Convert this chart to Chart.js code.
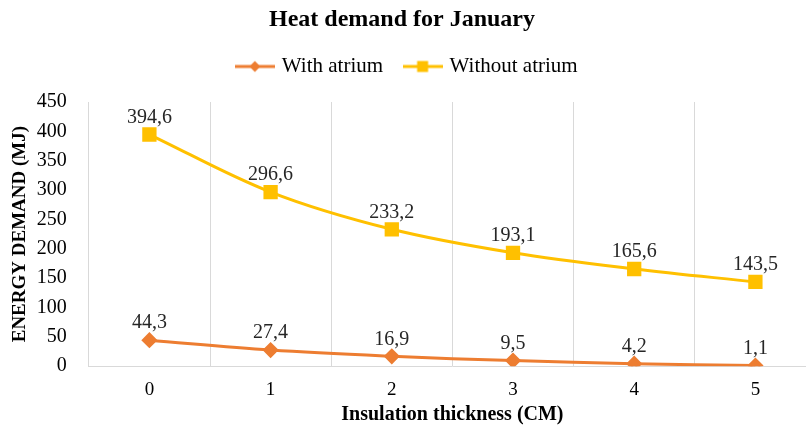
<!DOCTYPE html>
<html>
<head>
<meta charset="utf-8">
<script src="https://cdn.jsdelivr.net/npm/chart.js@4"></script>
<style>
  html, body { margin: 0; padding: 0; background: #fff; overflow: hidden; }
  #wrap { width: 806px; height: 427px; overflow: hidden; }
  #inner { width: 830px; height: 427px; }
</style>
</head>
<body>
<div id="wrap"><div id="inner"><canvas id="heatChart"></canvas></div></div>
<script>
// chart data
const thickness = ['0', '1', '2', '3', '4', '5'];
const withAtrium = [44.3, 27.4, 16.9, 9.5, 4.2, 1.1];
const withoutAtrium = [394.6, 296.6, 233.2, 193.1, 165.6, 143.5];
const yTicks = [0, 50, 100, 150, 200, 250, 300, 350, 400, 450];
const chartTitle = 'Heat demand for January';

const serif = '"Liberation Serif", "Times New Roman", serif';
const ORANGE = '#ED7D31';
const YELLOW = '#FFC000';

// legend symbol: short line with the marker on it
function legendSymbol(color, shape) {
    const c = document.createElement('canvas');
    c.width = 40;
    c.height = 14;
    const g = c.getContext('2d');
    g.strokeStyle = color;
    g.fillStyle = color;
    g.lineWidth = 3;
    g.beginPath();
    g.moveTo(0, 7);
    g.lineTo(40, 7);
    g.stroke();
    g.beginPath();
    if (shape === 'diamond') {
        g.moveTo(20, 1.5); g.lineTo(25.5, 7); g.lineTo(20, 12.5); g.lineTo(14.5, 7);
    } else {
        g.rect(14.5, 1.5, 11, 11);
    }
    g.closePath();
    g.fill();
    return c;
}

// title centred on the visible page (canvas is a bit wider than the window)
const pageTitle = {
    id: 'pageTitle',
    afterDraw(chart) {
        const ctx = chart.ctx;
        ctx.save();
        ctx.font = 'bold 24px ' + serif;
        ctx.fillStyle = '#000';
        ctx.textAlign = 'center';
        ctx.textBaseline = 'middle';
        ctx.fillText(chartTitle, 402, 20);
        ctx.restore();
    }
};

// extra room under the legend before the plot starts
const legendGap = {
    id: 'legendGap',
    beforeLayout(chart) {
        const lg = chart.legend;
        if (!lg || lg._gapPatched) return;
        const fit = lg.fit;
        lg.fit = function () {
            fit.call(this);
            this.height += 15;
        };
        lg._gapPatched = true;
    }
};

// draws the value above each point, comma as decimal separator
const pointLabels = {
    id: 'pointLabels',
    afterDatasetsDraw(chart) {
        const ctx = chart.ctx;
        ctx.save();
        ctx.font = '20px ' + serif;
        ctx.fillStyle = '#262626';
        ctx.textAlign = 'center';
        ctx.textBaseline = 'middle';
        chart.data.datasets.forEach((ds, i) => {
            chart.getDatasetMeta(i).data.forEach((pt, j) => {
                const txt = ds.data[j].toFixed(1).replace('.', ',');
                ctx.fillText(txt, pt.x, pt.y - 17);
            });
        });
        ctx.restore();
    }
};

new Chart(document.getElementById('heatChart'), {
    type: 'line',
    data: {
        labels: thickness,
        datasets: [
            {
                label: 'With atrium',
                data: withAtrium,
                borderColor: ORANGE,
                backgroundColor: ORANGE,
                borderWidth: 3,
                pointStyle: 'rectRot',
                pointRadius: 6,
                pointHoverRadius: 6,
                tension: 0.35,
                legendIcon: legendSymbol(ORANGE, 'diamond')
            },
            {
                label: 'Without atrium',
                data: withoutAtrium,
                borderColor: YELLOW,
                backgroundColor: YELLOW,
                borderWidth: 3,
                pointStyle: 'rect',
                pointRadius: 8,
                pointHoverRadius: 8,
                tension: 0.35,
                legendIcon: legendSymbol(YELLOW, 'square')
            }
        ]
    },
    options: {
        responsive: true,
        maintainAspectRatio: false,
        animation: false,
        layout: { padding: { left: 0, right: 14, top: 33, bottom: 0 } },
        plugins: {
            title: { display: false },
            legend: {
                display: true,
                labels: {
                    usePointStyle: true,
                    pointStyleWidth: 33,
                    boxHeight: 14,
                    color: '#000',
                    font: { family: serif, size: 21 },
                    padding: 23,
                    generateLabels(chart) {
                        return chart.data.datasets.map((ds, i) => ({
                            text: ds.label,
                            fillStyle: ds.backgroundColor,
                            strokeStyle: ds.borderColor,
                            lineWidth: 0,
                            pointStyle: ds.legendIcon,
                            datasetIndex: i
                        }));
                    }
                }
            },
            tooltip: { enabled: false }
        },
        scales: {
            x: {
                offset: true,
                grid: { display: true, offset: true, color: '#d9d9d9', drawTicks: false },
                border: { color: '#d9d9d9' },
                ticks: { color: '#000', font: { family: serif, size: 19 }, padding: 12 },
                title: {
                    display: true,
                    text: 'Insulation thickness (CM)',
                    color: '#000',
                    font: { family: serif, size: 20, weight: 'bold' },
                    padding: { top: -10, bottom: 0 }
                }
            },
            y: {
                min: 0,
                max: 450,
                afterBuildTicks(scale) { scale.ticks = yTicks.map(v => ({ value: v })); },
                grid: { display: false },
                border: { display: false },
                ticks: { color: '#000', font: { family: serif, size: 20 }, padding: 14 },
                title: {
                    display: true,
                    text: 'ENERGY DEMAND (MJ)',
                    color: '#000',
                    font: { family: serif, size: 19, weight: 'bold' },
                    padding: { top: 9, bottom: -9 }
                }
            }
        }
    },
    plugins: [pointLabels, pageTitle, legendGap]
});
</script>
</body>
</html>
